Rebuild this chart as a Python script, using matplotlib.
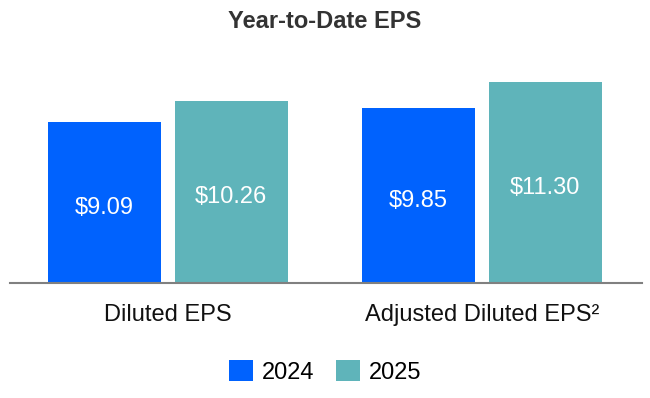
import matplotlib
matplotlib.use("Agg")
import matplotlib.pyplot as plt
from matplotlib.patches import Patch

plt.rcParams["font.family"] = ["Liberation Sans", "DejaVu Sans"]

categories = ["Diluted EPS", "Adjusted Diluted EPS²"]
years = ["2024", "2025"]
eps_2024 = [9.09, 9.85]
eps_2025 = [10.26, 11.30]

blue = "#0062FE"
teal = "#5FB4BA"

fig = plt.figure(figsize=(6.5, 3.98), dpi=100)
ax = fig.add_axes([10 / 650, 115 / 398, 632 / 650, 223 / 398])

x = range(len(categories))
w = 0.36
off = 0.202
b1 = ax.bar([i - off for i in x], eps_2024, width=w, color=blue)
b2 = ax.bar([i + off for i in x], eps_2025, width=w, color=teal)

# value labels sit around the middle of each bar
for bars, vals in ((b1, eps_2024), (b2, eps_2025)):
    for bar, v in zip(bars, vals):
        ax.annotate(f"${v:.2f}", xy=(bar.get_x() + bar.get_width() / 2, v / 2),
                    xytext=(0, -4), textcoords="offset points",
                    ha="center", va="center", color="white", fontsize=17)

ax.set_xlim(-0.503, 1.51)
ax.set_ylim(0, 12.56)
ax.set_xticks(list(x))
ax.set_xticklabels(categories, fontsize=17, color="#111111")
ax.tick_params(axis="x", length=0, pad=15)
ax.set_yticks([])
for s in ("top", "right", "left"):
    ax.spines[s].set_visible(False)
ax.spines["bottom"].set_color("#808080")
ax.spines["bottom"].set_linewidth(1.5)

fig.text(0.5, 1 - 21 / 398, "Year-to-Date EPS", ha="center", va="center",
         fontsize=17, fontweight="bold", color="#333333")

handles = [Patch(facecolor=blue), Patch(facecolor=teal)]
fig.legend(handles, years, loc="center", bbox_to_anchor=(0.5, 26 / 398), ncol=2,
           frameon=False, fontsize=17, handlelength=1.0, handleheight=1.0,
           handletextpad=0.38, columnspacing=0.93)

fig.savefig("out.png", dpi=100)
